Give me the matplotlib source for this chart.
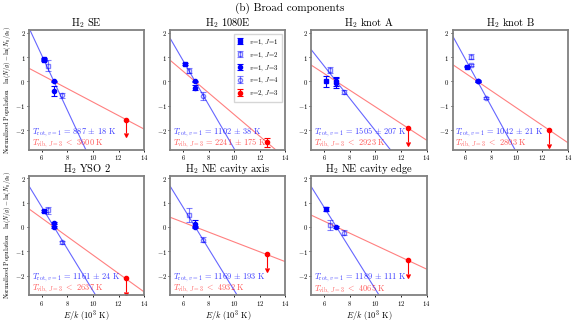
import numpy as np
import matplotlib
matplotlib.use("Agg")
import matplotlib.pyplot as plt

plt.rcParams['font.family'] = 'serif'
plt.rcParams['font.serif'] = ['cmr10', 'DejaVu Serif']
plt.rcParams['mathtext.fontset'] = 'cm'
plt.rcParams['axes.formatter.use_mathtext'] = True

# regions + fitted temperatures
regions = ["SE", "1080E", "knot A", "knot B", "YSO 2", "NE cavity axis", "NE cavity edge"]
t_rot = [887, 1102, 1505, 1042, 1161, 1169, 1189]
t_rot_err = [18, 38, 207, 21, 24, 193, 111]
t_vib = [3600, 2241, 2923, 2803, 2637, 4932, 4065]
t_vib_err = [0, 175, 0, 0, 0, 0, 0]  # 0 -> only an upper limit

# upper level energies E/k (10^3 K)
e_j1, e_j2, e_j3, e_j4, e_v2 = 6.149, 6.471, 6.951, 7.584, 12.550

# normalized populations, one list per region
j1_y = [[0.91, 0.88], [0.72], [0.00], [0.61], [0.67], [], [0.74]]
j1_err = [[0.04, 0.04], [0.05], [0.23], [0.03], [0.04], [], [0.07]]
j2_y = [[0.65], [0.44], [0.47], [1.01, 0.67], [0.68], [0.50], [0.07]]
j2_err = [[0.22], [0.10], [0.12], [0.10, 0.04], [0.15], [0.28], [0.20]]
j3_y = [[0.0, -0.38], [0.0, -0.26], [0.0, -0.07], [0.03, 0.0], [0.17, 0.0], [0.13, 0.0], [0.0]]
j3_err = [[0.03, 0.20], [0.03, 0.10], [0.20, 0.20], [0.05, 0.03], [0.04, 0.03], [0.15, 0.03], [0.03]]
j4_y = [[-0.56], [-0.60], [-0.45], [-0.68], [-0.64], [-0.52], [-0.23]]
j4_err = [[0.10], [0.15], [0.08], [0.04], [0.07], [0.10], [0.12]]
v2_y = [-1.57, -2.50, -1.92, -2.00, -2.12, -1.12, -1.38]
v2_err = [0.55, 0.18, 0.55, 0.55, 0.55, 0.55, 0.55]

fig, axes = plt.subplots(2, 4, figsize=(5.8, 3.2), dpi=100)
fig.subplots_adjust(left=0.05, right=0.979, top=0.905, bottom=0.078, wspace=0.226, hspace=0.22)

xx = np.array([5.0, 14.0])
eb = dict(capsize=2, elinewidth=0.8, capthick=0.8, ls='none')

for i, name in enumerate(regions):
    ax = axes.flat[i]

    # fits through the v=1, J=3 reference level
    ax.plot(xx, -(xx - e_j3) * 1000 / t_rot[i], color='blue', alpha=0.6, lw=0.8)
    ax.plot(xx, -(xx - e_j3) * 1000 / t_vib[i], color='red', alpha=0.5, lw=0.8)

    h = []
    if j1_y[i]:
        h.append(ax.errorbar([e_j1] * len(j1_y[i]), j1_y[i], yerr=j1_err[i], marker='s', ms=3.5,
                             color='blue', label=r'$v$=1, $J$=1', **eb))
    h.append(ax.errorbar([e_j2] * len(j2_y[i]), j2_y[i], yerr=j2_err[i], marker='s', ms=3.5, mfc='none',
                         color='blue', alpha=0.5, label=r'$v$=1, $J$=2', **eb))
    h.append(ax.errorbar([e_j3] * len(j3_y[i]), j3_y[i], yerr=j3_err[i], marker='o', ms=3,
                         color='blue', label=r'$v$=1, $J$=3', **eb))
    h.append(ax.errorbar([e_j4] * len(j4_y[i]), j4_y[i], yerr=j4_err[i], marker='o', ms=3, mfc='none',
                         color='blue', alpha=0.5, label=r'$v$=1, $J$=4', **eb))
    red = ax.errorbar([e_v2], [v2_y[i]], yerr=[v2_err[i]], uplims=(t_vib_err[i] == 0), marker='o', ms=3,
                      color='red', label=r'$v$=2, $J$=3', **eb)
    for cl in red[1]:
        if t_vib_err[i] == 0:
            cl.set_markersize(3.5)
    h.append(red)

    ax.text(0.023, 0.145, r"$T_{\mathrm{rot},\,v=1}$ = %d $\pm$ %d K" % (t_rot[i], t_rot_err[i]),
            transform=ax.transAxes, color='blue', alpha=0.75, fontsize=6, va='center')
    if t_vib_err[i] > 0:
        s = r"$T_{\mathrm{vib},\,J=3}$ = %d $\pm$ %d K" % (t_vib[i], t_vib_err[i])
    else:
        s = r"$T_{\mathrm{vib},\,J=3}$ $<$ %d K" % t_vib[i]
    ax.text(0.023, 0.05, s, transform=ax.transAxes, color='red', alpha=0.65, fontsize=6, va='center')

    if i == 1:
        ax.legend(handles=h, loc='upper right', fontsize=4.8, handlelength=1.0, borderpad=0.5,
                  labelspacing=0.5, fancybox=False, edgecolor='#cccccc')

    ax.set_title(r"H$_2$ " + name, fontsize=7.5, pad=1.5)
    ax.set_xlim(5, 14)
    ax.set_ylim(-2.8, 2.1)
    ax.set_xticks([6, 8, 10, 12, 14])
    ax.set_yticks([-2, -1, 0, 1, 2])
    ax.tick_params(labelsize=4.8, length=1.5, width=0.6, pad=1)
    for sp in ax.spines.values():
        sp.set_color('#808080')
        sp.set_linewidth(1.3)
    if i >= 4:
        ax.set_xlabel(r"$E/k$ (10$^3$ K)", fontsize=6, labelpad=0)
    if i in (0, 4):
        ax.set_ylabel(r"Normalized Population   $\ln(N/g)-\ln(N_0/g_0)$", fontsize=4.6, labelpad=2)

axes[1, 3].axis('off')
fig.suptitle("(b) Broad components", fontsize=8, y=0.99)

plt.savefig("out.png", dpi=100)
